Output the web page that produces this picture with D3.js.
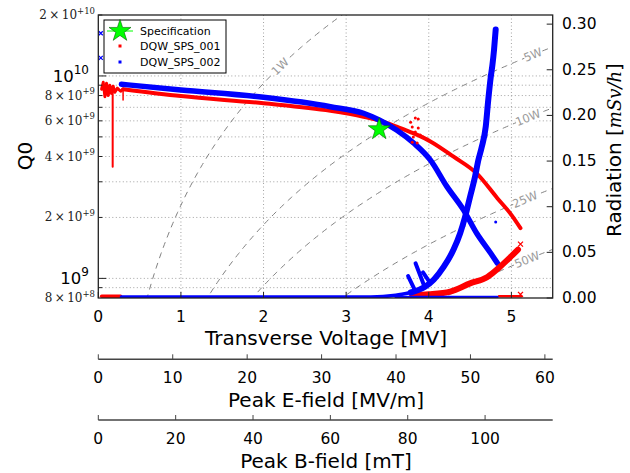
<!DOCTYPE html>
<html>
<head>
<meta charset="utf-8">
<script src="https://cdn.jsdelivr.net/npm/d3@7"></script>
<style>
  body { margin: 0; background: #fff; }
  svg { display: block; }
</style>
</head>
<body>
<svg id="chart" width="630" height="473"></svg>
<script>
// ---- Axis ticks ----
const voltageTicks = [0, 1, 2, 3, 4, 5];
const eFieldTicks = [0, 10, 20, 30, 40, 50, 60];
const bFieldTicks = [0, 20, 40, 60, 80, 100];
const radiationTicks = [0, 0.05, 0.10, 0.15, 0.20, 0.25, 0.30];
const qMajorTicks = [1e9, 1e10];
const qMinorTicks = [9e8, 2e9, 3e9, 4e9, 5e9, 6e9, 7e9, 8e9, 9e9, 2e10];
const qMinorLabels = [
  { q: 2e10, mant: "2", exp: "+10" },
  { q: 8e9, mant: "8", exp: "+9" },
  { q: 6e9, mant: "6", exp: "+9" },
  { q: 4e9, mant: "4", exp: "+9" },
  { q: 2e9, mant: "2", exp: "+9" },
  { q: 8e8, mant: "8", exp: "+8" }
];
const qMajorLabels = [{ q: 1e10, exp: "10" }, { q: 1e9, exp: "9" }];

// Peak surface fields per MV of transverse voltage
const ePeakPerMV = 11.1;
const bPeakPerMV = 21.36;

// Constant dissipated power guide lines, Q0 = Vt^2 / (R/Q * P)
const rOverQ = 435;                  // Ohm
const powerLevels = [1, 5, 10, 25, 50];     // W
const powerLabelV = [2.2, 5.26, 5.2, 5.165, 5.19]; // MV, where each tag sits

// ---- Specification point ----
const specV = [3.4];
const specQ = [5.45e9];

// ---- DQW_SPS_001 (red) : Q0 vs Vt ----
const q001Noise = [[0.04, 8.6e9], [0.06, 9.3e9], [0.08, 7.9e9], [0.10, 9.2e9], [0.12, 8.0e9],
  [0.14, 9.0e9], [0.16, 8.2e9], [0.18, 8.9e9], [0.20, 8.3e9], [0.23, 8.7e9], [0.27, 8.4e9], [0.30, 8.6e9]];
const q001Spike = [[0.174, 8.4e9], [0.174, 3.56e9]];
const q001Spike2 = [[0.30, 8.5e9], [0.30, 7.6e9]];
const q001 = [[0.30, 8.6e9], [1.0, 7.95e9], [2.0, 7.33e9], [2.81, 6.73e9], [3.21, 6.29e9],
  [3.4, 6.03e9], [3.61, 5.62e9], [3.82, 5.2e9], [4.02, 4.75e9], [4.3, 3.99e9],
  [4.58, 3.3e9], [4.83, 2.49e9], [5.0, 2.06e9], [5.11, 1.77e9]];
const q001Scatter = [[3.837, 6.2e9], [3.873, 6.13e9], [3.80, 5.59e9], [3.873, 5.53e9], [3.837, 5.28e9],
  [3.813, 4.99e9], [3.897, 5.11e9], [3.80, 4.71e9], [3.86, 4.66e9], [3.93, 4.99e9], [3.78, 5.9e9]];

// ---- DQW_SPS_002 (blue) : Q0 vs Vt ----
const q002 = [[0.28, 9.1e9], [1.0, 8.53e9], [2.0, 7.84e9], [2.81, 7.05e9], [3.21, 6.54e9],
  [3.4, 6.06e9], [3.61, 5.41e9], [3.82, 4.65e9], [4.02, 3.84e9], [4.22, 2.84e9],
  [4.42, 2.18e9], [4.58, 1.67e9], [4.75, 1.33e9], [4.83, 1.19e9]];
const q002Stray = [[4.81, 1.9e9]];

// ---- Radiation [mSv/h] vs Vt ----
const rad001Low = [[0.04, 0.002], [0.27, 0.002]];
const rad001 = [[3.8, 0.003], [4.0, 0.004], [4.26, 0.007], [4.50, 0.016], [4.71, 0.023],
  [4.86, 0.034], [4.99, 0.045], [5.08, 0.053]];
const rad001Base = [[4.85, 0.002], [5.12, 0.002]];
const rad001Stray = [[5.11, 0.059], [5.11, 0.004]];
const rad002Low = [[0.28, 0.001], [3.3, 0.001], [3.6, 0.003], [3.78, 0.006]];
const rad002 = [[3.78, 0.006], [3.95, 0.012], [4.06, 0.020], [4.18, 0.034], [4.30, 0.053],
  [4.38, 0.071], [4.44, 0.089], [4.50, 0.111], [4.56, 0.133], [4.60, 0.151], [4.64, 0.165],
  [4.69, 0.188], [4.72, 0.217], [4.75, 0.242], [4.77, 0.255], [4.79, 0.272], [4.81, 0.294]];
const rad002Base = [[3.6, 0.001], [4.83, 0.001]];
const rad002Streaks = [
  [[3.75, 0.024], [3.83, 0.009]],
  [[3.84, 0.038], [3.95, 0.012]],
  [[3.93, 0.028], [4.02, 0.016]]
];
const rad002Stray = [[0.03, 0.290], [0.03, 0.263]];

// ---- Layout ----
const svg = d3.select("#chart");
const plot = { left: 98.3, right: 552.7, top: 15, bottom: 298 };
const red = "#ff0000", blue = "#0000ff";

const x = d3.scaleLinear().domain([0, 5.5]).range([plot.left, plot.right]);
const yQ = d3.scaleLog().domain([8e8, 2e10]).range([plot.bottom, plot.top]);
const yR = d3.scaleLinear().domain([0, 0.31]).range([plot.bottom, plot.top]);
const xE = d3.scaleLinear().domain([0, 5.5 * ePeakPerMV]).range([plot.left, plot.right]);
const xB = d3.scaleLinear().domain([0, 5.5 * bPeakPerMV]).range([plot.left, plot.right]);

svg.append("defs").append("clipPath").attr("id", "plotClip")
  .append("rect").attr("x", plot.left).attr("y", plot.top)
  .attr("width", plot.right - plot.left).attr("height", plot.bottom - plot.top);

const sans = "DejaVu Sans, sans-serif";
const serif = "DejaVu Serif, serif";

// ---- Grid ----
const grid = svg.append("g").attr("stroke", "#8a8a8a").attr("stroke-width", 0.8)
  .attr("stroke-dasharray", "1,2.5");
voltageTicks.filter(v => v > 0).forEach(v => {
  grid.append("line").attr("x1", x(v)).attr("x2", x(v)).attr("y1", plot.top).attr("y2", plot.bottom);
});
qMajorTicks.concat(qMinorTicks).forEach(q => {
  if (q >= 2e10) return;
  grid.append("line").attr("x1", plot.left).attr("x2", plot.right).attr("y1", yQ(q)).attr("y2", yQ(q));
});

// ---- Constant-power guide lines ----
const body = svg.append("g").attr("clip-path", "url(#plotClip)");
const vSamples = d3.range(0.02, 5.52, 0.02);
const qOfP = (v, p) => (v * 1e6) * (v * 1e6) / (rOverQ * p);
const pLine = d3.line().x(d => x(d[0])).y(d => yQ(d[1]));
powerLevels.forEach(p => {
  const pts = vSamples.map(v => [v, qOfP(v, p)]).filter(d => d[1] > 3e8 && d[1] < 5e10);
  body.append("path").attr("d", pLine(pts)).attr("fill", "none")
    .attr("stroke", "#808080").attr("stroke-width", 1).attr("stroke-dasharray", "6,5");
});
powerLevels.forEach((p, i) => {
  const v = powerLabelV[i];
  const px = x(v), py = yQ(qOfP(v, p));
  const px2 = x(v + 0.01), py2 = yQ(qOfP(v + 0.01, p));
  const ang = Math.atan2(py2 - py, px2 - px) * 180 / Math.PI;
  const g = svg.append("g").attr("transform", `translate(${px},${py}) rotate(${ang})`);
  const label = p + "W";
  const w = label.length * 7.2 + 4;
  g.append("rect").attr("x", -w / 2).attr("y", -6).attr("width", w).attr("height", 12).attr("fill", "#fff");
  g.append("text").text(label).attr("text-anchor", "middle").attr("dominant-baseline", "central")
    .attr("font-family", sans).attr("font-size", 11.5).attr("fill", "#9a9a9a");
});

// ---- Data marks ----
const lineQ = d3.line().x(d => x(d[0])).y(d => yQ(d[1])).curve(d3.curveMonotoneX);
const lineQlin = d3.line().x(d => x(d[0])).y(d => yQ(d[1]));
const lineR = d3.line().x(d => x(d[0])).y(d => yR(d[1])).curve(d3.curveMonotoneX);
const lineRlin = d3.line().x(d => x(d[0])).y(d => yR(d[1]));

function band(g, d, gen, color, w) {
  g.append("path").attr("d", gen(d)).attr("fill", "none").attr("stroke", color)
    .attr("stroke-width", w).attr("stroke-linecap", "round").attr("stroke-linejoin", "round");
}

// Q0 traces
band(body, q001Noise, lineQlin, red, 3);
band(body, q001Spike, lineQlin, red, 2);
band(body, q001Spike2, lineQlin, red, 1.5);
band(body, q001, lineQ, red, 4);
band(body, q002, lineQ, blue, 5.5);
q001Scatter.forEach(d => body.append("circle").attr("cx", x(d[0])).attr("cy", yQ(d[1])).attr("r", 1.5).attr("fill", red));
q002Stray.forEach(d => body.append("circle").attr("cx", x(d[0])).attr("cy", yQ(d[1])).attr("r", 1.5).attr("fill", blue));

// Radiation traces
band(body, rad001Low, lineRlin, red, 3.5);
band(body, rad001Base, lineRlin, red, 2.5);
band(body, rad001, lineR, red, 6);
band(body, rad002Low, lineR, blue, 3.5);
band(body, rad002Base, lineRlin, blue, 2.5);
rad002Streaks.forEach(s => band(body, s, lineRlin, blue, 4));
band(body, rad002, lineR, blue, 6);

function cross(g, cx, cy, s, color) {
  g.append("path").attr("d", `M${cx - s},${cy - s}L${cx + s},${cy + s}M${cx - s},${cy + s}L${cx + s},${cy - s}`)
    .attr("stroke", color).attr("stroke-width", 1.3);
}
rad001Stray.forEach(d => cross(body, x(d[0]), yR(d[1]), 2.5, red));
rad002Stray.forEach(d => cross(svg, x(d[0]), yR(d[1]), 2, blue));

// Specification star
const star = d3.symbol().type(d3.symbolStar).size(150);
specV.forEach((v, i) => {
  svg.append("path").attr("d", star()).attr("transform", `translate(${x(v)},${yQ(specQ[i])})`)
    .attr("fill", "#00ff00").attr("stroke", "#006400").attr("stroke-width", 0.6);
});

// ---- Frame ----
svg.append("rect").attr("x", plot.left).attr("y", plot.top)
  .attr("width", plot.right - plot.left).attr("height", plot.bottom - plot.top)
  .attr("fill", "none").attr("stroke", "#222").attr("stroke-width", 1.3);

const ticks = svg.append("g").attr("stroke", "#222").attr("stroke-width", 1);
voltageTicks.forEach(v => ticks.append("line").attr("x1", x(v)).attr("x2", x(v)).attr("y1", plot.bottom).attr("y2", plot.bottom - 6));
qMajorTicks.forEach(q => ticks.append("line").attr("x1", plot.left).attr("x2", plot.left + 8).attr("y1", yQ(q)).attr("y2", yQ(q)));
qMinorTicks.forEach(q => ticks.append("line").attr("x1", plot.left).attr("x2", plot.left + 4).attr("y1", yQ(q)).attr("y2", yQ(q)));
radiationTicks.forEach(r => ticks.append("line").attr("x1", plot.right).attr("x2", plot.right - 6).attr("y1", yR(r)).attr("y2", yR(r)));

// Bottom tick labels
voltageTicks.forEach(v => svg.append("text").text(v).attr("x", x(v)).attr("y", 322)
  .attr("text-anchor", "middle").attr("font-family", sans).attr("font-size", 15.5).attr("fill", "#000"));
svg.append("text").text("Transverse Voltage [MV]").attr("x", 326).attr("y", 345)
  .attr("text-anchor", "middle").attr("font-family", sans).attr("font-size", 20);

// Right tick labels
radiationTicks.forEach(r => svg.append("text").text(r.toFixed(2)).attr("x", 562).attr("y", yR(r))
  .attr("dominant-baseline", "central").attr("font-family", sans).attr("font-size", 15.5));
const rl = svg.append("text").attr("transform", "translate(614,150) rotate(-90)")
  .attr("text-anchor", "middle").attr("dominant-baseline", "central")
  .attr("font-family", sans).attr("font-size", 20);
rl.append("tspan").text("Radiation [");
rl.append("tspan").text("mSv/h").attr("font-family", serif).attr("font-style", "italic").attr("font-size", 18);
rl.append("tspan").text("]");

// Left tick labels
qMinorLabels.forEach(d => {
  const t = svg.append("text").attr("x", 95).attr("y", yQ(d.q) + 4).attr("text-anchor", "end")
    .attr("font-family", serif).attr("font-size", 12).attr("fill", "#222");
  t.append("tspan").text(d.mant + "\u2009\u00d7\u200910");
  t.append("tspan").text(d.exp).attr("dy", -5.5).attr("font-size", 8.5);
});
qMajorLabels.forEach(d => {
  const t = svg.append("text").attr("x", 89).attr("y", yQ(d.q) + 6).attr("text-anchor", "end")
    .attr("font-family", sans).attr("font-size", 16.5);
  t.append("tspan").text("10");
  t.append("tspan").text(d.exp).attr("dy", -8).attr("font-size", 12);
});
svg.append("text").text("Q0").attr("transform", "translate(25,156) rotate(-90)")
  .attr("text-anchor", "middle").attr("dominant-baseline", "central")
  .attr("font-family", sans).attr("font-size", 20);

// ---- Secondary field axes ----
function fieldAxis(scale, tickVals, yLine, title) {
  const g = svg.append("g");
  g.append("line").attr("x1", plot.left).attr("x2", plot.right).attr("y1", yLine).attr("y2", yLine)
    .attr("stroke", "#444").attr("stroke-width", 1.5);
  tickVals.forEach(t => {
    g.append("line").attr("x1", scale(t)).attr("x2", scale(t)).attr("y1", yLine).attr("y2", yLine - 5)
      .attr("stroke", "#444").attr("stroke-width", 1);
    g.append("text").text(t).attr("x", scale(t)).attr("y", yLine + 24).attr("text-anchor", "middle")
      .attr("font-family", sans).attr("font-size", 15.5);
  });
  g.append("text").text(title).attr("x", 326).attr("y", yLine + 48).attr("text-anchor", "middle")
    .attr("font-family", sans).attr("font-size", 20);
}
fieldAxis(xE, eFieldTicks, 359.3, "Peak E-field [MV/m]");
fieldAxis(xB, bFieldTicks, 420, "Peak B-field [mT]");

// ---- Legend ----
const lg = svg.append("g");
lg.append("rect").attr("x", 104).attr("y", 20).attr("width", 122).attr("height", 53)
  .attr("fill", "#fff").attr("stroke", "#000").attr("stroke-width", 1);
lg.append("line").attr("x1", 107).attr("x2", 133).attr("y1", 31).attr("y2", 31)
  .attr("stroke", "#00ff00").attr("stroke-width", 1);
lg.append("path").attr("d", star()).attr("transform", "translate(120,31)")
  .attr("fill", "#00ff00").attr("stroke", "#006400").attr("stroke-width", 0.6);
lg.append("rect").attr("x", 118.5).attr("y", 44.5).attr("width", 3).attr("height", 3).attr("fill", red);
lg.append("rect").attr("x", 118.5).attr("y", 60.5).attr("width", 3).attr("height", 3).attr("fill", blue);
[["Specification", 31], ["DQW_SPS_001", 46.5], ["DQW_SPS_002", 62]].forEach(([t, yy]) => {
  lg.append("text").text(t).attr("x", 140).attr("y", yy).attr("dominant-baseline", "central")
    .attr("font-family", sans).attr("font-size", 11);
});
</script>
</body>
</html>
